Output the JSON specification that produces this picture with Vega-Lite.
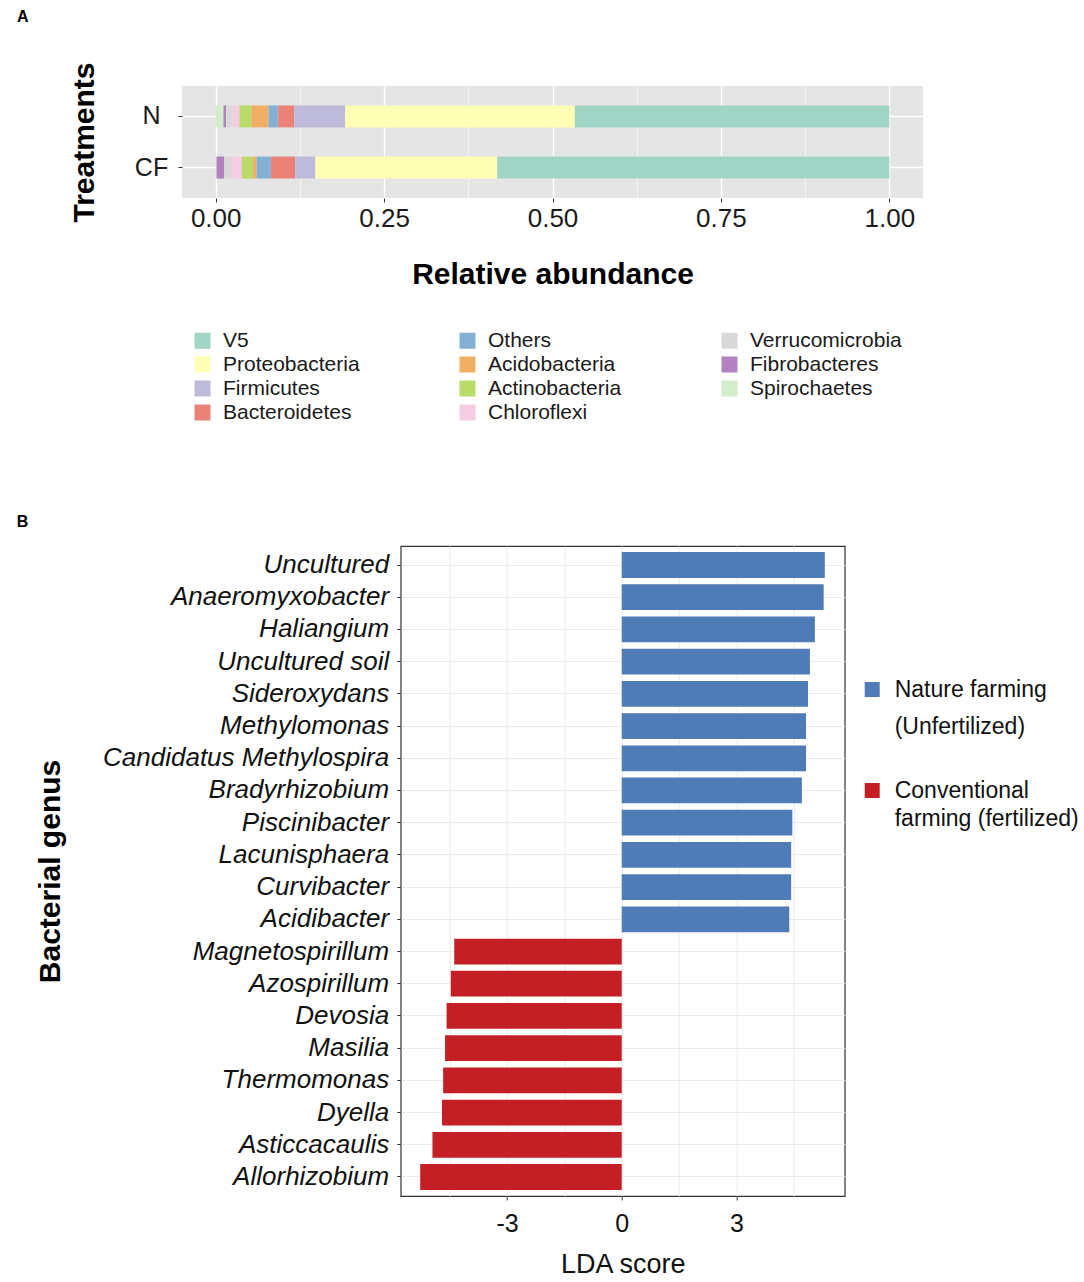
{
  "$schema": "https://vega.github.io/schema/vega-lite/v6.json",
  "padding": {"left": 16, "top": 8, "right": 2, "bottom": 5},
  "background": "white",
  "config": {"font": "Liberation Sans", "title": {"color": "#000000"}},
  "spacing": 90,
  "center": true,
  "resolve": {"scale": {"color": "independent"}, "legend": {"color": "independent"}},
  "vconcat": [
    {"spacing": 0, "hconcat": [
    {
      "title": {"text": "A", "anchor": "start", "frame": "group", "dx": -165, "offset": 37, "fontSize": 16, "fontWeight": "bold"},
      "width": 741,
      "height": 112,
      "view": {"fill": "#e5e5e5", "stroke": null},
      "data": {
        "values": [
          {"treatment": "N", "phylum": "Spirochaetes", "abundance": 0.0116, "rank": 1},
          {"treatment": "N", "phylum": "Fibrobacteres", "abundance": 0.004, "rank": 2},
          {"treatment": "N", "phylum": "Verrucomicrobia", "abundance": 0.0093, "rank": 3},
          {"treatment": "N", "phylum": "Chloroflexi", "abundance": 0.0104, "rank": 4},
          {"treatment": "N", "phylum": "Actinobacteria", "abundance": 0.0174, "rank": 5},
          {"treatment": "N", "phylum": "Acidobacteria", "abundance": 0.0257, "rank": 6},
          {"treatment": "N", "phylum": "Others", "abundance": 0.0144, "rank": 7},
          {"treatment": "N", "phylum": "Bacteroidetes", "abundance": 0.0237, "rank": 8},
          {"treatment": "N", "phylum": "Firmicutes", "abundance": 0.0757, "rank": 9},
          {"treatment": "N", "phylum": "Proteobacteria", "abundance": 0.341, "rank": 10},
          {"treatment": "N", "phylum": "V5", "abundance": 0.4668, "rank": 11},
          {"treatment": "CF", "phylum": "Spirochaetes", "abundance": 0.0012, "rank": 1},
          {"treatment": "CF", "phylum": "Fibrobacteres", "abundance": 0.0116, "rank": 2},
          {"treatment": "CF", "phylum": "Verrucomicrobia", "abundance": 0.0099, "rank": 3},
          {"treatment": "CF", "phylum": "Chloroflexi", "abundance": 0.0163, "rank": 4},
          {"treatment": "CF", "phylum": "Actinobacteria", "abundance": 0.0163, "rank": 5},
          {"treatment": "CF", "phylum": "Acidobacteria", "abundance": 0.0053, "rank": 6},
          {"treatment": "CF", "phylum": "Others", "abundance": 0.0214, "rank": 7},
          {"treatment": "CF", "phylum": "Bacteroidetes", "abundance": 0.036, "rank": 8},
          {"treatment": "CF", "phylum": "Firmicutes", "abundance": 0.030, "rank": 9},
          {"treatment": "CF", "phylum": "Proteobacteria", "abundance": 0.270, "rank": 10},
          {"treatment": "CF", "phylum": "V5", "abundance": 0.582, "rank": 11}
        ]
      },
      "mark": {"type": "bar"},
      "encoding": {
        "y": {
          "field": "treatment", "type": "nominal", "sort": ["N", "CF"],
          "scale": {"paddingInner": 0.57, "paddingOuter": 0.38},
          "axis": {
            "title": "Treatments", "titleFontSize": 30, "titleFontWeight": "bold", "titleColor": "#000000", "titlePadding": 35,
            "labelFontSize": 25, "labelColor": "#1a1a1a", "labelAlign": "center", "labelPadding": 27,
            "tickSize": 4, "tickColor": "#333333", "domain": false,
            "grid": true, "gridColor": "#ffffff", "gridWidth": 1.5, "bandPosition": 0.5
          }
        },
        "x": {
          "field": "abundance", "type": "quantitative", "stack": "zero",
          "scale": {"domain": [-0.05, 1.05], "nice": false, "zero": false},
          "axis": {
            "title": "Relative abundance",
            "values": [0, 0.125, 0.25, 0.375, 0.5, 0.625, 0.75, 0.875, 1],
            "labelExpr": "datum.value * 4 % 1 == 0 ? format(datum.value, '.2f') : ''",
            "labelOverlap": false, "labelFlush": false,
            "labelFontSize": 26, "labelColor": "#1a1a1a", "labelPadding": 3,
            "tickSize": 4, "tickColor": "#333333",
            "tickOpacity": {"condition": {"test": "datum.value * 4 % 1 != 0", "value": 0}, "value": 1},
            "grid": true, "gridColor": "#ffffff",
            "gridWidth": {"condition": {"test": "datum.value * 4 % 1 != 0", "value": 0.6}, "value": 1.4},
            "domain": false,
            "titleFontSize": 30, "titleFontWeight": "bold", "titleColor": "#000000", "titlePadding": 28
          }
        },
        "color": {
          "field": "phylum", "type": "nominal",
          "scale": {
            "domain": ["V5", "Proteobacteria", "Firmicutes", "Bacteroidetes", "Others", "Acidobacteria", "Actinobacteria", "Chloroflexi", "Verrucomicrobia", "Fibrobacteres", "Spirochaetes"],
            "range": ["#a0d5c6", "#ffffb5", "#bebada", "#ea8278", "#85b0d6", "#efb066", "#b8db6a", "#f4cde3", "#d9d9d9", "#b282c0", "#d3ecc9"]
          },
          "legend": {
            "title": null, "orient": "none", "legendX": 10, "legendY": 244,
            "columns": 3, "columnPadding": 97, "rowPadding": 2, "gridAlign": "each",
            "symbolType": "square", "symbolSize": 256, "symbolStrokeWidth": 0, "symbolOpacity": 1,
            "labelFontSize": 21, "labelColor": "#1a1a1a", "labelOffset": 10, "labelLimit": 300, "padding": 0
          }
        },
        "order": {"field": "rank", "type": "quantitative"}
      }
    },
    {
      "width": 376,
      "height": 10,
      "view": {"stroke": null, "fill": null},
      "data": {"values": []},
      "mark": {"type": "point"},
      "encoding": {}
    }
    ]},
    {
      "title": {"text": "B", "anchor": "start", "frame": "group", "dx": -384, "offset": 16, "fontSize": 16, "fontWeight": "bold"},
      "width": 444,
      "height": 650,
      "view": {"stroke": "#333333", "strokeWidth": 1.2, "fill": "#ffffff"},
      "data": {
        "values": [
          {"genus": "Uncultured", "lda": 5.31, "group": "Nature farming"},
          {"genus": "Anaeromyxobacter", "lda": 5.28, "group": "Nature farming"},
          {"genus": "Haliangium", "lda": 5.05, "group": "Nature farming"},
          {"genus": "Uncultured soil", "lda": 4.92, "group": "Nature farming"},
          {"genus": "Sideroxydans", "lda": 4.87, "group": "Nature farming"},
          {"genus": "Methylomonas", "lda": 4.82, "group": "Nature farming"},
          {"genus": "Candidatus Methylospira", "lda": 4.82, "group": "Nature farming"},
          {"genus": "Bradyrhizobium", "lda": 4.71, "group": "Nature farming"},
          {"genus": "Piscinibacter", "lda": 4.46, "group": "Nature farming"},
          {"genus": "Lacunisphaera", "lda": 4.43, "group": "Nature farming"},
          {"genus": "Curvibacter", "lda": 4.43, "group": "Nature farming"},
          {"genus": "Acidibacter", "lda": 4.38, "group": "Nature farming"},
          {"genus": "Magnetospirillum", "lda": -4.38, "group": "Conventional farming"},
          {"genus": "Azospirillum", "lda": -4.47, "group": "Conventional farming"},
          {"genus": "Devosia", "lda": -4.58, "group": "Conventional farming"},
          {"genus": "Masilia", "lda": -4.62, "group": "Conventional farming"},
          {"genus": "Thermomonas", "lda": -4.67, "group": "Conventional farming"},
          {"genus": "Dyella", "lda": -4.70, "group": "Conventional farming"},
          {"genus": "Asticcacaulis", "lda": -4.95, "group": "Conventional farming"},
          {"genus": "Allorhizobium", "lda": -5.27, "group": "Conventional farming"}
        ]
      },
      "mark": {"type": "bar"},
      "encoding": {
        "y": {
          "field": "genus", "type": "nominal",
          "sort": ["Uncultured", "Anaeromyxobacter", "Haliangium", "Uncultured soil", "Sideroxydans", "Methylomonas", "Candidatus Methylospira", "Bradyrhizobium", "Piscinibacter", "Lacunisphaera", "Curvibacter", "Acidibacter", "Magnetospirillum", "Azospirillum", "Devosia", "Masilia", "Thermomonas", "Dyella", "Asticcacaulis", "Allorhizobium"],
          "scale": {"paddingInner": 0.2, "paddingOuter": 0.19},
          "axis": {
            "title": "Bacterial genus", "titleFontSize": 30, "titleFontWeight": "bold", "titleColor": "#000000", "titlePadding": 37,
            "labelFontSize": 26, "labelFontStyle": "italic", "labelColor": "#111111", "labelPadding": 8, "labelLimit": 400,
            "maxExtent": 500,
            "tickSize": 4, "tickColor": "#333333", "domain": false,
            "grid": true, "gridColor": "#ebebeb", "gridWidth": 1, "bandPosition": 0.5
          }
        },
        "x": {
          "field": "lda", "type": "quantitative",
          "scale": {"domain": [-5.78, 5.83], "nice": false, "zero": false},
          "axis": {
            "title": "LDA score",
            "values": [-4.5, -3, -1.5, 0, 1.5, 3, 4.5],
            "labelExpr": "datum.value % 3 == 0 ? toString(datum.value) : ''",
            "labelOverlap": false, "labelFlush": false,
            "labelFontSize": 25, "labelColor": "#111111", "labelPadding": 11,
            "tickSize": 4, "tickColor": "#333333",
            "tickOpacity": {"condition": {"test": "datum.value % 3 != 0", "value": 0}, "value": 1},
            "grid": true, "gridColor": "#ebebeb", "gridWidth": 1,
            "domain": false,
            "titleFontSize": 27, "titleFontWeight": "normal", "titleColor": "#111111", "titlePadding": 15
          }
        },
        "color": {
          "field": "group", "type": "nominal",
          "scale": {"domain": ["Nature farming", "Conventional farming"], "range": ["#4f7bb6", "#c41f24"]},
          "legend": {
            "title": null, "orient": "none", "legendX": 460, "legendY": 132,
            "symbolType": "square", "symbolSize": 225, "symbolStrokeWidth": 0, "symbolOpacity": 1,
            "labelFontSize": 23, "labelColor": "#111111", "labelOffset": 11, "labelLimit": 400,
            "rowPadding": 40, "padding": 0,
            "labelExpr": "datum.label == 'Nature farming' ? ['Nature farming', '(Unfertilized)'] : ['Conventional', 'farming (fertilized)']",
            "encode": {"labels": {"update": {"lineHeight": {"signal": "datum.value == 'Nature farming' ? 37 : 28"}}}}
          }
        }
      }
    }
  ]
}
